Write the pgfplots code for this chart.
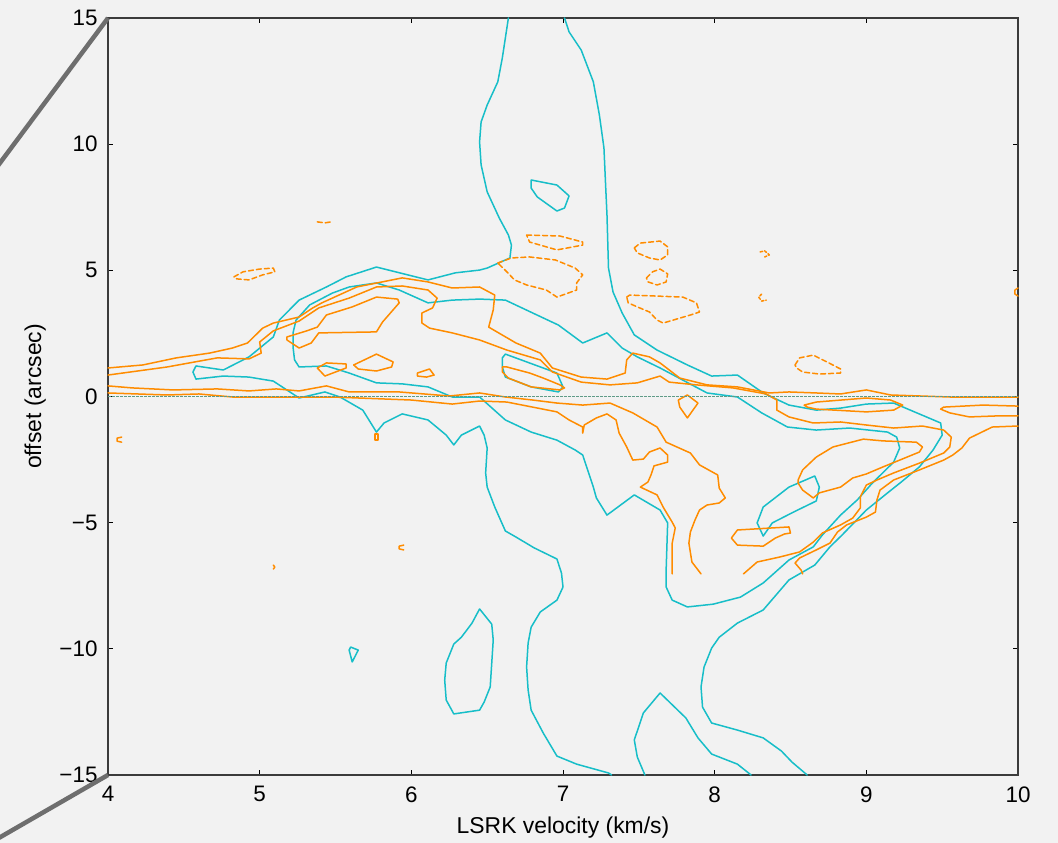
\documentclass[border=0pt]{standalone}
\usepackage{pgfplots}
\pgfplotsset{compat=1.18}
\usepackage{fontspec}
\setmainfont{Liberation Sans}
\definecolor{bg}{RGB}{242,242,242}
\definecolor{cy}{RGB}{23,190,200}
\definecolor{orc}{RGB}{255,140,0}
\definecolor{zc}{RGB}{95,155,135}
\definecolor{conn}{RGB}{110,110,110}
\definecolor{frame}{RGB}{60,60,60}
\begin{document}
\begin{tikzpicture}
\path[use as bounding box, fill=bg] (-108bp,-68bp) rectangle (950bp,775bp);
\begin{axis}[at={(0,0)}, anchor=south west, scale only axis, width=910bp, height=757bp,
xmin=4,xmax=10,ymin=-15,ymax=15, clip=false,
xtick={4,5,6,7,8,9,10}, ytick={-15,-10,-5,0,5,10,15},
xticklabels={4,5,6,7,8,9,10}, yticklabels={−15,−10,−5,0,5,10,15},
tick align=inside, major tick length=5bp,
axis line style={frame, line width=1.3bp},
tick style={black, line width=1bp},
ticklabel style={font=\fontsize{22.5}{27}\selectfont},
xticklabel style={yshift=-8bp},
yticklabel style={xshift=-7bp},
xlabel={LSRK velocity (km/s)}, ylabel={offset (arcsec)},
every axis x label/.style={at={(axis description cs:0.5,-0.07)}, anchor=center, font=\fontsize{23}{27}\selectfont},
every axis y label/.style={at={(axis description cs:-0.08,0.5)}, anchor=center, rotate=90, font=\fontsize{23}{27}\selectfont},
every axis plot/.append style={line width=1.5bp, line join=round, line cap=round, mark=none},
]
% connector lines
\addplot[conn, line width=4.5bp, line cap=butt] coordinates {(4,15)(3.25,8.95)};
\addplot[conn, line width=4.5bp, line cap=butt] coordinates {(4,-15)(3.25,-17.6)};

% ---------- cyan contours ----------
\addplot[cy] coordinates {(6.64,15.0)(6.60,13.42)(6.57,12.47)(6.50,11.55)(6.46,10.88)(6.45,10.09)(6.46,9.18)(6.50,8.11)(6.58,7.07)(6.64,6.40)(6.66,6.00)(6.65,5.49)(6.50,5.09)(6.45,5.01)(6.29,4.90)(6.11,4.62)(5.77,5.13)(5.57,4.74)(5.44,4.34)(5.26,3.82)(5.13,3.03)(5.09,2.36)(4.93,1.57)(4.76,1.05)(4.58,1.21)(4.56,0.97)(4.58,0.69)(4.76,0.81)(4.93,0.77)(5.09,0.61)(5.26,-0.06)(5.43,0.18)(5.53,-0.02)(5.68,-0.54)(5.77,-1.41)(5.82,-1.05)(5.94,-0.69)(6.11,-0.93)(6.23,-1.53)(6.28,-1.92)(6.33,-1.53)(6.45,-1.17)(6.48,-1.53)(6.50,-2.04)(6.49,-3.03)(6.50,-3.59)(6.55,-4.38)(6.62,-5.33)(6.69,-5.57)(6.81,-6.00)(6.96,-6.44)(6.99,-7.00)(7.00,-7.55)(6.96,-8.07)(6.85,-8.54)(6.79,-9.14)(6.77,-9.77)(6.76,-10.72)(6.77,-11.63)(6.79,-12.43)(6.87,-13.34)(6.96,-14.25)(7.09,-14.57)(7.30,-14.92)(7.32,-15.0)};
\addplot[cy] coordinates {(7.01,15.0)(7.04,14.45)(7.12,13.73)(7.20,12.47)(7.24,11.15)(7.27,9.85)(7.28,8.50)(7.29,7.19)(7.30,5.09)(7.33,4.14)(7.39,3.31)(7.47,2.44)(7.62,1.84)(7.82,1.25)(7.98,0.81)(8.15,0.85)(8.32,0.14)(8.49,-0.34)(8.67,-0.54)(8.83,-0.46)(9.00,-0.30)(9.18,-0.26)(9.49,-1.05)(9.50,-1.53)(9.44,-2.12)(9.35,-2.79)(9.23,-3.39)(9.14,-3.82)(9.00,-4.50)(8.84,-5.49)(8.76,-5.96)(8.66,-6.68)(8.49,-7.27)(8.32,-8.46)(8.15,-8.98)(8.03,-9.54)(7.98,-9.97)(7.93,-10.72)(7.91,-11.51)(7.92,-12.31)(7.98,-12.94)(8.15,-13.22)(8.32,-13.53)(8.44,-14.05)(8.51,-14.49)(8.61,-15.0)};
\addplot[cy] coordinates {(5.22,1.96)(5.22,2.52)(5.24,3.03)(5.33,3.63)(5.48,4.10)(5.59,4.34)(5.77,4.50)(5.92,4.22)(6.11,3.71)(6.27,3.82)(6.45,3.86)(6.62,3.82)(6.80,3.31)(6.97,2.83)(7.13,2.12)(7.29,2.52)(7.39,1.92)(7.49,1.57)(7.64,1.13)(7.79,0.65)(7.95,0.14)(8.15,-0.02)(8.31,-0.65)(8.48,-1.21)(8.67,-1.33)(8.89,-1.25)(9.14,-1.41)(9.20,-1.61)(9.22,-2.04)(9.18,-2.60)(9.04,-3.43)(8.94,-4.10)(8.83,-4.70)(8.71,-5.49)(8.65,-5.96)(8.49,-6.48)(8.32,-7.39)(8.17,-7.95)(7.99,-8.23)(7.82,-8.34)(7.72,-8.07)(7.68,-7.55)(7.68,-6.88)(7.69,-5.01)(7.64,-4.50)(7.47,-3.90)(7.29,-4.70)(7.22,-4.02)(7.20,-3.59)(7.13,-2.32)(7.08,-2.12)(6.96,-1.73)(6.79,-1.41)(6.62,-0.93)(6.45,-0.02)(6.27,-0.02)(6.11,0.38)(5.94,0.50)(5.77,0.54)(5.59,0.93)(5.44,1.21)(5.26,1.17)(5.23,1.45)(5.22,1.96)};
\addplot[cy] coordinates {(6.79,8.58)(6.96,8.38)(7.04,7.95)(7.01,7.47)(6.96,7.35)(6.83,7.91)(6.79,8.26)(6.79,8.58)};
\addplot[cy] coordinates {(6.62,1.68)(6.96,0.93)(7.00,0.38)(6.97,0.18)(6.79,0.38)(6.62,0.77)(6.60,1.17)(6.60,1.53)(6.62,1.68)};
\addplot[cy] coordinates {(5.60,-9.93)(5.65,-10.05)(5.61,-10.52)(5.59,-10.05)(5.60,-9.93)};
\addplot[cy] coordinates {(6.45,-8.42)(6.53,-9.02)(6.54,-9.65)(6.52,-11.51)(6.48,-12.11)(6.45,-12.43)(6.28,-12.58)(6.23,-12.03)(6.22,-11.24)(6.23,-10.56)(6.28,-9.81)(6.33,-9.54)(6.40,-8.98)(6.45,-8.42)};
\addplot[cy] coordinates {(7.54,-15.0)(7.49,-14.29)(7.47,-13.61)(7.53,-12.54)(7.64,-11.75)(7.81,-12.74)(7.89,-13.53)(7.98,-14.17)(8.15,-14.57)(8.24,-15.0)};
\addplot[cy] coordinates {(8.66,-3.15)(8.69,-3.59)(8.67,-4.14)(8.52,-4.58)(8.38,-5.01)(8.32,-5.53)(8.28,-5.01)(8.32,-4.38)(8.49,-3.59)(8.66,-3.15)};

% ---------- orange solid contours ----------
\addplot[orc] coordinates {(4.00,1.13)(4.23,1.25)(4.45,1.53)(4.67,1.72)(4.82,1.92)(4.92,2.12)(5.02,2.71)(5.09,2.91)(5.26,3.15)(5.35,3.51)(5.41,3.71)(5.64,4.34)(5.94,4.70)(6.11,4.54)(6.27,4.30)(6.45,4.34)(6.55,4.02)(6.54,3.43)(6.51,2.75)(6.69,2.12)(6.85,1.72)(6.93,1.13)(7.12,0.77)(7.29,0.69)(7.41,0.93)(7.42,1.45)(7.46,1.72)(7.57,1.57)(7.64,1.33)(7.77,0.73)(7.95,0.46)(8.15,0.38)(8.36,0.14)(8.49,0.18)(8.67,0.14)(8.83,0.10)(9.00,0.26)(9.16,0.06)(9.55,-0.02)(10.0,-0.02)};
\addplot[orc] coordinates {(4.00,0.85)(4.39,1.17)(4.72,1.53)(4.93,1.49)(5.01,1.72)(5.00,2.16)(5.09,2.60)(5.26,2.99)(5.39,3.51)(5.59,3.90)(5.77,4.34)(5.94,4.38)(6.11,4.22)(6.17,3.90)(6.14,3.51)(6.07,3.31)(6.07,2.91)(6.12,2.71)(6.27,2.52)(6.45,2.24)(6.63,1.84)(6.85,1.45)(6.93,0.97)(7.12,0.57)(7.31,0.46)(7.49,0.54)(7.64,0.81)(7.70,0.57)(7.88,0.46)(8.12,0.34)(8.34,0.10)(8.41,-0.14)(8.41,-0.54)(8.49,-0.81)(8.65,-1.05)(8.83,-1.01)(9.00,-1.13)(9.18,-1.25)(9.37,-1.17)(9.51,-1.33)(9.56,-1.61)(9.55,-2.00)(9.51,-2.24)(9.35,-2.64)(9.18,-3.03)(9.07,-3.31)(9.00,-3.51)(8.96,-3.98)(8.96,-4.42)(8.91,-4.82)(8.83,-5.09)(8.71,-5.41)(8.65,-5.77)(8.56,-6.16)(8.43,-6.36)(8.28,-6.56)(8.19,-7.03)};
\addplot[orc] coordinates {(4.00,0.42)(4.16,0.34)(4.43,0.26)(4.72,0.30)(4.93,0.22)(5.11,0.30)(5.26,0.22)(5.44,0.42)(5.59,0.18)(5.92,0.18)(6.25,0.02)(6.45,0.14)(6.62,-0.02)(6.80,-0.14)(6.96,-0.26)(7.13,-0.34)(7.31,-0.26)(7.46,-0.65)(7.62,-1.21)(7.68,-1.81)(7.84,-2.24)(7.90,-2.71)(8.02,-3.11)(8.03,-3.63)(8.07,-4.02)(8.03,-4.22)(7.95,-4.30)(7.90,-4.50)(7.87,-4.90)(7.84,-5.37)(7.83,-5.81)(7.85,-6.56)(7.91,-7.03)};
\addplot[orc] coordinates {(4.00,0.14)(4.39,0.06)(4.60,0.10)(4.82,-0.02)(5.26,-0.02)(5.48,-0.02)(6.00,-0.14)(6.27,-0.30)(6.45,-0.18)(6.63,-0.22)(6.96,-0.61)(7.04,-0.93)(7.13,-1.21)(7.13,-1.45)(7.14,-1.13)(7.22,-0.85)(7.29,-0.69)(7.35,-0.93)(7.37,-1.45)(7.42,-2.00)(7.46,-2.52)(7.53,-2.48)(7.57,-2.20)(7.64,-2.04)(7.69,-2.32)(7.69,-2.60)(7.60,-2.75)(7.58,-3.11)(7.56,-3.39)(7.51,-3.59)(7.62,-3.90)(7.66,-4.38)(7.72,-4.98)(7.74,-5.21)(7.72,-5.81)(7.72,-7.03)};
\addplot[orc] coordinates {(10.0,-0.38)(9.77,-0.34)(9.51,-0.42)(9.49,-0.50)(9.55,-0.65)(9.68,-0.81)(9.86,-0.77)(10.0,-0.77)};
\addplot[orc] coordinates {(10.0,-1.17)(9.83,-1.21)(9.68,-1.65)(9.63,-2.04)(9.57,-2.32)(9.51,-2.52)(9.35,-2.91)(9.18,-3.31)(9.09,-3.71)(9.07,-4.10)(9.06,-4.58)(9.00,-4.78)(8.87,-5.09)(8.81,-5.37)(8.76,-5.81)(8.67,-6.08)(8.56,-6.40)(8.53,-6.60)(8.57,-6.88)(8.58,-7.03)};
\addplot[orc] coordinates {(8.55,-3.31)(8.58,-2.91)(8.67,-2.40)(8.78,-2.00)(8.98,-1.69)(9.11,-1.76)(9.33,-1.81)(9.37,-2.00)(9.35,-2.20)(9.22,-2.52)(9.11,-2.79)(9.00,-3.07)(8.91,-3.23)(8.83,-3.59)(8.69,-3.82)(8.65,-4.02)(8.58,-3.71)(8.55,-3.43)(8.55,-3.31)};
\addplot[orc] coordinates {(8.59,-0.34)(8.67,-0.22)(9.00,-0.06)(9.16,-0.14)(9.24,-0.34)(9.18,-0.54)(9.00,-0.61)(8.67,-0.50)(8.61,-0.42)(8.59,-0.34)};
\addplot[orc] coordinates {(8.15,-5.29)(8.49,-5.17)(8.50,-5.41)(8.46,-5.45)(8.40,-5.61)(8.32,-5.93)(8.15,-5.89)(8.11,-5.61)(8.15,-5.29)};
\addplot[orc] coordinates {(7.76,-0.14)(7.82,0.06)(7.89,-0.26)(7.82,-0.85)(7.77,-0.42)(7.76,-0.14)};
\addplot[orc] coordinates {(5.18,2.24)(5.26,1.92)(5.34,2.12)(5.39,2.52)(5.77,2.56)(5.81,2.95)(5.92,3.71)(5.91,3.86)(5.77,3.94)(5.61,3.55)(5.44,3.23)(5.38,2.75)(5.31,2.60)(5.18,2.36)(5.18,2.24)};
\addplot[orc] coordinates {(5.38,1.13)(5.44,1.33)(5.57,1.29)(5.57,1.13)(5.43,0.81)(5.38,1.13)};
\addplot[orc] coordinates {(5.62,1.25)(5.77,1.68)(5.88,1.37)(5.87,1.17)(5.77,1.01)(5.65,1.09)(5.62,1.25)};
\addplot[orc] coordinates {(6.04,0.93)(6.12,1.09)(6.15,0.85)(6.10,0.77)(6.04,0.81)(6.04,0.93)};
\addplot[orc] coordinates {(6.60,1.17)(6.60,0.97)(6.64,0.73)(6.79,0.38)(6.98,0.26)(7.01,0.34)(6.98,0.46)(6.87,0.73)(6.78,0.93)(6.63,1.17)(6.60,1.17)};
\addplot[orc] coordinates {(4.09,-1.61)(4.06,-1.65)(4.06,-1.77)(4.09,-1.81)};
\addplot[orc] coordinates {(5.76,-1.49)(5.78,-1.49)(5.78,-1.73)(5.76,-1.73)(5.76,-1.49)};
\addplot[orc] coordinates {(5.09,-6.68)(5.10,-6.76)(5.09,-6.84)};
\addplot[orc] coordinates {(5.95,-5.89)(5.92,-5.93)(5.92,-6.04)(5.95,-6.08)};
\addplot[orc] coordinates {(10.0,4.30)(9.98,4.22)(9.98,4.06)(10.0,3.98)};

% ---------- orange dashed contours ----------
\addplot[orc, dash pattern=on 5bp off 3bp] coordinates {(4.83,4.74)(4.89,4.94)(5.00,5.05)(5.09,5.09)(5.10,4.94)(5.02,4.82)(4.93,4.62)(4.85,4.66)(4.83,4.74)};
\addplot[orc, dash pattern=on 5bp off 3bp] coordinates {(5.38,6.92)(5.43,6.88)(5.47,6.92)};
\addplot[orc, dash pattern=on 5bp off 3bp] coordinates {(6.76,6.40)(6.98,6.36)(7.13,6.12)(7.13,6.00)(6.96,5.81)(6.78,6.12)(6.76,6.40)};
\addplot[orc, dash pattern=on 5bp off 3bp] coordinates {(6.57,5.29)(6.66,5.49)(6.78,5.53)(6.95,5.41)(7.08,5.09)(7.13,4.82)(7.09,4.50)(7.09,4.22)(6.96,3.94)(6.89,4.22)(6.76,4.42)(6.68,4.62)(6.63,4.94)(6.57,5.29)};
\addplot[orc, dash pattern=on 5bp off 3bp] coordinates {(7.47,5.89)(7.51,6.08)(7.64,6.16)(7.69,5.93)(7.69,5.61)(7.64,5.41)(7.57,5.49)(7.49,5.69)(7.47,5.89)};
\addplot[orc, dash pattern=on 5bp off 3bp] coordinates {(7.55,4.70)(7.59,4.94)(7.64,5.05)(7.69,4.86)(7.68,4.54)(7.62,4.42)(7.56,4.54)(7.55,4.70)};
\addplot[orc, dash pattern=on 5bp off 3bp] coordinates {(7.42,3.94)(7.44,4.02)(7.79,3.94)(7.88,3.71)(7.90,3.35)(7.84,3.23)(7.66,2.91)(7.62,3.03)(7.57,3.35)(7.49,3.55)(7.43,3.71)(7.42,3.94)};
\addplot[orc, dash pattern=on 2.5bp off 2bp] coordinates {(8.30,5.73)(8.33,5.77)(8.36,5.61)(8.33,5.53)};
\addplot[orc, dash pattern=on 2.5bp off 2bp] coordinates {(8.31,4.06)(8.29,3.94)(8.31,3.78)(8.34,3.82)};
\addplot[orc, dash pattern=on 5bp off 3bp] coordinates {(8.53,1.25)(8.56,1.53)(8.65,1.64)(8.74,1.37)(8.83,1.09)(8.83,0.93)(8.69,0.89)(8.58,0.97)(8.54,1.13)(8.53,1.25)};

% zero line
\addplot[zc, line width=0.8bp, dash pattern=on 2.5bp off 1.5bp, line cap=butt] coordinates {(4,0)(10,0)};
\end{axis}
\end{tikzpicture}
\end{document}
